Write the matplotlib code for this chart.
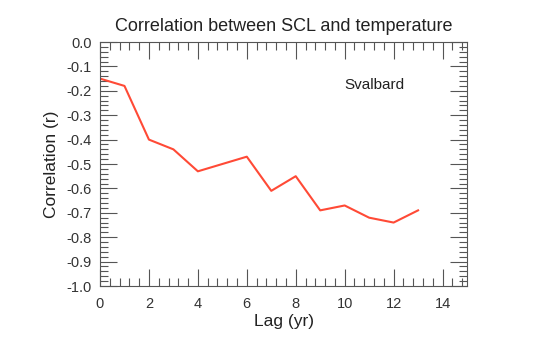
import matplotlib
matplotlib.use("Agg")
import matplotlib.pyplot as plt
from matplotlib.ticker import MultipleLocator, FormatStrFormatter

lag = [0, 1, 2, 3, 4, 5, 6, 7, 8, 9, 10, 11, 12, 13]
corr = [-0.15, -0.18, -0.40, -0.44, -0.53, -0.50, -0.47, -0.61, -0.55, -0.69, -0.67, -0.72, -0.74, -0.69]
title = "Correlation between SCL and temperature"
xlabel = "Lag (yr)"
ylabel = "Correlation (r)"
site = "Svalbard"

plt.rcParams['font.family'] = ['Liberation Sans', 'DejaVu Sans']
fig = plt.figure(figsize=(5.54, 3.41), dpi=100)
ax = fig.add_axes([100/554, 1-286/341, 367/554, 244/341])
ax.plot(lag, corr, color='#ff4a36', lw=1.5)
ax.set_xlim(0, 15)
ax.set_ylim(-1.0, 0.0)
ax.xaxis.set_major_locator(MultipleLocator(2))
ax.xaxis.set_minor_locator(MultipleLocator(0.4))
ax.yaxis.set_major_locator(MultipleLocator(0.1))
ax.yaxis.set_minor_locator(MultipleLocator(0.02))
ax.yaxis.set_major_formatter(FormatStrFormatter('%.1f'))
tc = '#555555'
ax.tick_params(which='both', direction='in', top=True, right=True, color=tc, width=0.8,
               labelsize=10.5, labelcolor='#333333')
ax.tick_params(which='major', length=12, pad=6)
ax.tick_params(axis='x', which='major', pad=8)
ax.tick_params(which='minor', length=6)
for s in ax.spines.values():
    s.set_color(tc)
    s.set_linewidth(0.8)
ax.set_title(title, fontsize=13, color='#222222', pad=8)
ax.set_xlabel(xlabel, fontsize=12.5, color='#222222', labelpad=2)
ax.set_ylabel(ylabel, fontsize=12.5, color='#222222', labelpad=5)
ax.text(11.2, -0.178, site, fontsize=11, color='#222222', ha='center', va='center')
fig.savefig('out.png', dpi=100)
